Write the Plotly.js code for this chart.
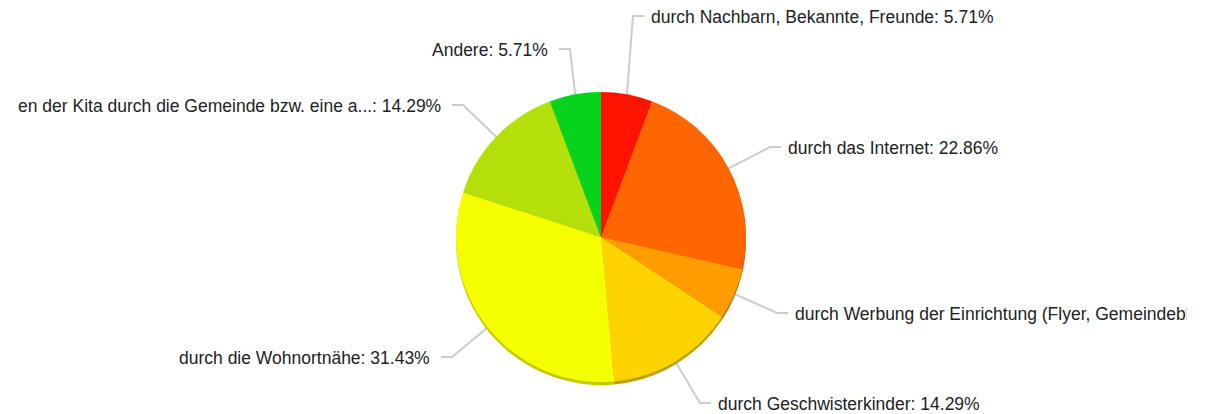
<!DOCTYPE html>
<html><head><meta charset="utf-8">
<script src="https://cdn.plot.ly/plotly-3.0.1.min.js"></script>
<style>html,body{margin:0;padding:0;background:#fff}#chart{width:1209px;height:414px}</style>
</head><body><div id="chart"></div>
<script>
// ---- data ----
const categories = [
  "durch Nachbarn, Bekannte, Freunde",
  "durch das Internet",
  "durch Werbung der Einrichtung (Flyer, Gemeindeblatt, ...)",
  "durch Geschwisterkinder",
  "durch die Wohnortnähe",
  "en der Kita durch die Gemeinde bzw. eine a...",
  "Andere"
];
const values = [5.71, 22.86, 5.71, 14.29, 31.43, 14.29, 5.71];
const colors = ["#FF1300", "#FF6600", "#FF9C00", "#FDD300", "#F6FF00", "#B3E00A", "#07D31D"];
const rimColors = ["#B80E00", "#BB4B00", "#BC7300", "#BE9E00", "#C4C800", "#86A808", "#069F16"];

// ---- layout config (pixels) ----
const W = 1209, H = 414;
const cx = 601, cy = 237, r = 145, rimDepth = 3;
// elbow points of label connectors
const labelElbows = [[633, 16], [770, 147], [777, 313], [700, 403], [452, 357], [463, 105], [570, 49]];
const labelClipRight = 1186;

const px = x => x / W, py = y => 1 - y / H;
const total = values.reduce((a, b) => a + b, 0);

const pieBase = {
  type: "pie", values: values, labels: categories, sort: false, direction: "clockwise",
  rotation: 0, textinfo: "none", hoverinfo: "label+percent", showlegend: false
};
const traces = [
  Object.assign({}, pieBase, {
    marker: {colors: rimColors, line: {width: 0}},
    domain: {x: [px(cx - r), px(cx + r)], y: [py(cy + r + rimDepth), py(cy - r + rimDepth)]}
  }),
  Object.assign({}, pieBase, {
    marker: {colors: colors, line: {width: 0}},
    domain: {x: [px(cx - r), px(cx + r)], y: [py(cy + r), py(cy - r)]}
  })
];

const shapes = [], annotations = [];
let cum = 0;
values.forEach((v, i) => {
  const mid = (cum + v / 2) / total * 2 * Math.PI;
  cum += v;
  const ex = cx + r * Math.sin(mid), ey = cy - r * Math.cos(mid);
  const [bx, by] = labelElbows[i];
  const right = Math.sin(mid) >= 0;
  const hx = bx + (right ? 11 : -11);
  shapes.push({
    type: "path", xref: "paper", yref: "paper",
    path: `M ${px(ex)} ${py(ey)} L ${px(bx)} ${py(by)} L ${px(hx)} ${py(by)}`,
    line: {color: "#cccccc", width: 2}, layer: "below"
  });
  const pct = (v / total * 100).toFixed(2);
  const tx = bx + (right ? 17 : -21);
  const ann = {
    xref: "paper", yref: "paper", x: px(tx), y: py(by + 1),
    xanchor: right ? "left" : "right", yanchor: "middle",
    text: categories[i] + ": " + pct + "%", showarrow: false, borderpad: 0,
    align: right ? "left" : "right",
    font: {family: "Liberation Sans, Arial, sans-serif", size: 17.5, color: "#222222"}
  };
  if (right && tx + 600 > labelClipRight && i === 2) { ann.width = labelClipRight - tx; }
  annotations.push(ann);
});

const layout = {
  width: W, height: H, margin: {l: 0, r: 0, t: 0, b: 0},
  paper_bgcolor: "#ffffff", plot_bgcolor: "#ffffff",
  shapes: shapes, annotations: annotations, showlegend: false
};
Plotly.newPlot("chart", traces, layout, {displayModeBar: false, staticPlot: true});
</script>
</body></html>
